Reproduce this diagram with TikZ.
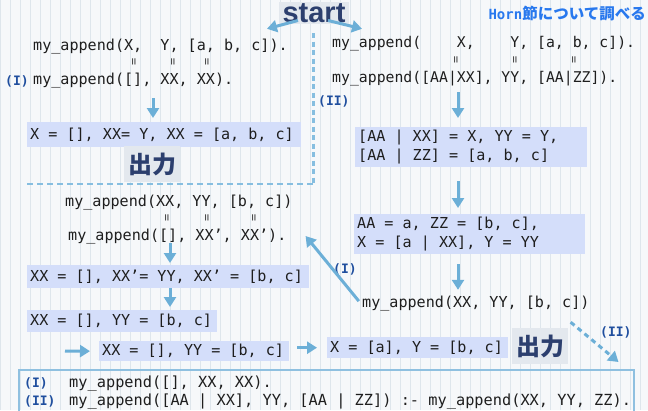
\documentclass[tikz,border=0pt]{standalone}
\usepackage{fontspec}
\setmainfont{Liberation Sans}
\newfontfamily\mono{DejaVu Sans Mono}
\newfontfamily\jp{Noto Sans CJK JP}
\usetikzlibrary{arrows.meta,calc}
\newcommand\fixsp{\spaceskip=\fontdimen2\font\xspaceskip=\fontdimen2\font\relax}
\definecolor{arrowc}{HTML}{6CAFD7}
\definecolor{dashc}{HTML}{86BEE0}
\definecolor{boxc}{HTML}{D4DEFA}
\definecolor{lblc}{HTML}{1F4E9E}
\definecolor{navy}{HTML}{2C3F6E}
\definecolor{hornc}{HTML}{2878EE}
\definecolor{gridc}{HTML}{DEE6EC}
\definecolor{bgc}{HTML}{F6F8FA}
\definecolor{hlc}{HTML}{E3E8EE}
\definecolor{framec}{HTML}{8FC0E0}
\definecolor{txtc}{HTML}{1E1E1E}
\definecolor{eqc}{HTML}{444444}
\begin{document}
\begin{tikzpicture}[x=1pt,y=-1pt,
  ctext/.style={font=\mono\frenchspacing\fontsize{#1}{20}\selectfont, anchor=west, inner sep=0pt, text height=11pt, text depth=3pt, text=txtc},
  ctext/.default=15.1,
  cbox/.style={font=\mono\frenchspacing\fontsize{15.1}{19.5}\selectfont, fill=boxc, anchor=north west, inner xsep=3pt, inner ysep=0pt, text=txtc},
  lbl/.style={font=\mono\bfseries\fontsize{13}{13}\selectfont, text=lblc, anchor=west, inner sep=0pt},
  eqm/.style={font=\mono\fontsize{12}{12}\selectfont, rotate=90, inner sep=0pt, text=eqc},
  arr/.style={draw=arrowc, line width=3pt, -{Triangle[width=12pt,length=10pt]}},
  darr/.style={arr, dash pattern=on 5pt off 4pt},
  hdash/.style={draw=dashc, line width=2.5pt, dash pattern=on 6pt off 4pt},
  vdash/.style={draw=dashc, line width=3pt, dash pattern=on 5pt off 3.5pt},
  hl/.style={fill=hlc, text=navy},
  outlbl/.style={hl, font=\jp\bfseries\fontsize{24}{24}\selectfont, inner xsep=4pt, inner ysep=7pt}
]
\useasboundingbox (0,0) rectangle (648,410);
\clip (0,0) rectangle (648,410);
\fill[bgc] (0,0) rectangle (648,410);
\draw[gridc, line width=0.6pt, step=10] (0,0) grid (648,410);

% connectors from the title (drawn first, so the title lies over them)
\coordinate (st) at (314,22.5);

% title
\node[hl, font=\bfseries\fontsize{29}{29}\selectfont, anchor=base, inner xsep=4pt, inner ysep=1.5pt] (start) at (st) {start};
\node[anchor=east, inner sep=0pt, text=hornc] (horn) at (646,14) {{\mono\bfseries\fontsize{14}{14}\selectfont Horn}{\jp\bfseries\fontsize{15.5}{15.5}\selectfont 節について調べる}};

% left column
\node[ctext] (l1a) at (33,46) {my\_append(X,~ Y, [a, b, c]).};
\node[eqm] (e1) at (135,62) {=};
\node[eqm] (e2) at (174,62) {=};
\node[eqm] (e3) at (208,62) {=};
\node[lbl] (lI) at (5,81) {(I)};
\node[ctext] (l1b) at (33,80) {my\_append([], XX, XX).};
\node[cbox, text width=268pt, minimum height=25pt] (B1) at (27,122) {\fixsp X = [], XX= Y, XX = [a, b, c]};
\node[outlbl] (out1) at (152,164) {出力};
\draw[hdash] (27,184) -- (313,184);
\node[ctext] (l3a) at (65,202) {my\_append(XX, YY, [b, c])};
\node[eqm] (e4) at (168,218) {=};
\node[eqm] (e5) at (208,218) {=};
\node[eqm] (e6) at (255,218) {=};
\node[ctext] (l4b) at (68,236) {my\_append([], XX’, XX’).};
\node[cbox, text width=276pt, minimum height=23pt] (B4) at (27,265) {\fixsp XX = [], XX’= YY, XX’ = [b, c]};
\node[cbox, text width=184pt, minimum height=22pt] (B5) at (27,310) {\fixsp XX = [], YY = [b, c]};
\node[cbox, text width=184pt, minimum height=20pt] (B6) at (99,341) {\fixsp XX = [], YY = [b, c]};
\node[cbox, text width=175pt, minimum height=21pt] (B7) at (327,337) {\fixsp X = [a], Y = [b, c]};
\node[outlbl] (out2) at (540,346) {出力};

% right column
\draw[vdash] (313,33) -- (313,183);
\node[ctext=14.8] (r1a) at (332,43) {my\_append(~~~ X,~~~ Y, [a, b, c]).};
\node[eqm] (e7) at (457,60) {=};
\node[eqm] (e8) at (516,60) {=};
\node[eqm] (e9) at (575,60) {=};
\node[ctext=14.8] (r2a) at (332,78) {my\_append([AA|XX], YY, [AA|ZZ]).};
\node[lbl] (lII) at (318,101) {(II)};
\node[cbox, text width=226pt, minimum height=40pt] (B2) at (355,127) {\fixsp{[}AA | XX] = X, YY = Y,\\{[}AA | ZZ] = [a, b, c]};
\node[cbox, text width=225pt, minimum height=40pt] (B3) at (354,214) {\fixsp AA = a, ZZ = [b, c],\\X = [a | XX], Y = YY};
\node[ctext] (r5) at (362,303) {my\_append(XX, YY, [b, c])};
\node[lbl] (lI2) at (333,269) {(I)};
\node[lbl] (lII2) at (600,332) {(II)};

% bottom definitions
\node[draw=framec, line width=1.5pt, anchor=north west, minimum width=615pt, minimum height=60pt, inner sep=0pt] (defs) at (18,369) {};
\node[lbl] (bI) at (24,383) {(I)};
\node[ctext=15.3] (bt1) at (69,383) {my\_append([], XX, XX).};
\node[lbl] (bII) at (24,401) {(II)};
\node[ctext=15.3] (bt2) at (69,401) {my\_append([AA | XX], YY, [AA | ZZ]) :- my\_append(XX, YY, ZZ).};

% helper x positions
\coordinate (ax1) at (153,0);
\coordinate (ax2) at (458,0);
\coordinate (ax3) at (170,0);
\coordinate (s8) at (65,351);

% connectors
\draw[arr] ([xshift=-16pt,yshift=4pt]start.south) -- ([xshift=-21pt,yshift=10pt]l1a.north east);
\draw[arr] ([xshift=14pt,yshift=4pt]start.south) -- ([xshift=30pt,yshift=7pt]r1a.north west);
\draw[arr, shorten <=11pt, shorten >=4pt] (l1b.south -| ax1) -- (B1.north -| ax1);
\draw[arr, shorten <=7pt, shorten >=9pt] (r2a.south -| ax2) -- (B2.north -| ax2);
\draw[arr, shorten <=14pt, shorten >=6pt] (B2.south -| ax2) -- (B3.north -| ax2);
\draw[arr, shorten <=10pt, shorten >=6pt] (B3.south -| ax2) -- (r5.north -| ax2);
\draw[arr, shorten <=5pt] ([yshift=-2pt]r5.west) -- ([xshift=19pt]l4b.east);
\draw[arr, shorten >=2pt] (l4b.south -| ax3) -- (B4.north -| ax3);
\draw[arr, shorten >=3pt] (B4.south -| ax3) -- (B5.north -| ax3);
\draw[arr, shorten >=9pt] (s8) -- (B6.west);
\draw[arr, shorten <=8pt, shorten >=10pt] (B6.east |- B7.west) -- (B7.west);
\draw[darr] ([xshift=-19pt,yshift=-12pt]r5.south east) -- ([xshift=-16pt,yshift=7pt]defs.north east);
\end{tikzpicture}
\end{document}
